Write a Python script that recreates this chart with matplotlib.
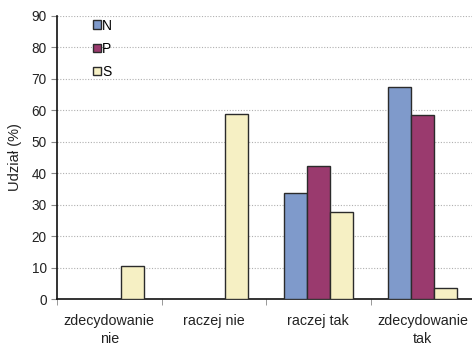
import matplotlib.pyplot as plt
import numpy as np
from matplotlib.patches import Patch

plt.rcParams['font.family'] = ['Liberation Sans', 'DejaVu Sans']

categories = ["zdecydowanie\nnie", "raczej nie", "raczej tak", "zdecydowanie\ntak"]
series_names = ["N", "P", "S"]
values_n = [0.0, 0.0, 33.6, 67.2]
values_p = [0.0, 0.0, 42.1, 58.5]
values_s = [10.6, 58.8, 27.8, 3.6]
colors = ["#7f9acb", "#9a3a6e", "#f6f0c4"]

fig = plt.figure(figsize=(4.72, 3.46), dpi=100)
ax = fig.add_axes([0.1208, 0.1358, 0.8856, 0.8188])

x = np.arange(len(categories))
width = 0.22
for i, (vals, col) in enumerate(zip([values_n, values_p, values_s], colors)):
    heights = np.array(vals)
    mask = heights > 0
    ax.bar(x[mask] + (i - 1) * width, heights[mask], width, color=col,
           edgecolor="#2b2b2b", linewidth=1.0, zorder=3)

ax.set_xlim(-0.5, 3.5)
ax.set_ylim(0, 90)
ax.set_yticks(range(0, 91, 10))
ax.yaxis.grid(True, linestyle=(0, (1, 1.5)), color="#b0b0b0", linewidth=0.8, zorder=0)

ax.set_xticks(x)
ax.set_xticklabels(categories, fontsize=10.3, color="#222222", linespacing=1.38)
ax.tick_params(axis="x", length=0, pad=11)
ax.set_xticks(np.arange(-0.5, 3.0, 1.0), minor=True)
ax.tick_params(axis="x", which="minor", length=4, color="#888888")
ax.tick_params(axis="y", labelsize=9.8, labelcolor="#222222", length=4, color="#888888")

for side in ["top", "right"]:
    ax.spines[side].set_visible(False)
ax.spines["left"].set_color("#111111")
ax.spines["bottom"].set_color("#111111")
ax.spines["left"].set_linewidth(1.2)
ax.spines["bottom"].set_linewidth(1.2)

ax.set_ylabel("Udział (%)", fontsize=10.5, color="#222222", labelpad=7)

handles = [Patch(facecolor=c, edgecolor="#2b2b2b", linewidth=1.0) for c in colors]
ax.legend(handles, series_names, loc="upper left", bbox_to_anchor=(0.086, 0.99),
          frameon=False, fontsize=10, handlelength=0.55, handleheight=0.55,
          handletextpad=0.1, labelspacing=0.67, borderaxespad=0, borderpad=0)

fig.savefig("out.png", dpi=100)
